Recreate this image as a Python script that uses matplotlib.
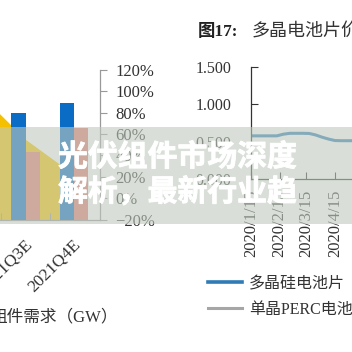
import numpy as np
import pandas as pd
import matplotlib
matplotlib.use('Agg')
import matplotlib.pyplot as plt
import matplotlib.patheffects as pe
from matplotlib.patches import Rectangle
from matplotlib.lines import Line2D
from matplotlib.ticker import PercentFormatter, FormatStrFormatter

plt.rcParams['font.family'] = ['Liberation Serif', 'Noto Sans CJK SC']

# left chart: quarterly module demand (bars, GW) and growth (area, %)
quarters = ['2021Q2E', '2021Q3E', '2021Q4E']
demand_blue = [np.nan, 42.8, 46.8]
demand_red = [np.nan, 27.2, 36.8]
growth_pct = [100, 55, 22]

# right chart: poly cell price (weekly)
price_dates = pd.date_range('2020-01-15', periods=17, freq='7D')
poly_price = [0.578, 0.578, 0.578, 0.578, 0.578, 0.600, 0.612, 0.612, 0.612,
              0.610, 0.590, 0.560, 0.535, 0.515, 0.513, 0.513, 0.513]
tick_dates = pd.to_datetime(['2020-01-15', '2020-02-15', '2020-03-15', '2020-04-15'])
legend_labels = ['多晶硅电池片', '单晶PERC电池片']

W = 352.0
def fx(px):
    return px / W
def fy(py):
    return 1 - py / W

fig = plt.figure(figsize=(3.52, 3.52), dpi=100)
fig.patch.set_facecolor('white')

# ---- left chart
ax_g = fig.add_axes([fx(-47.25), fy(219.5), 147.25 / W, 149.5 / W])
x = np.arange(len(quarters))
ax_g.fill_between(x, growth_pct, -20, color='#f5c000', lw=0)
ax_g.set_ylim(-20, 120)
ax_g.set_xlim(-0.5, 2.536)

ax_b = ax_g.twinx()
ax_b.bar(x - 0.145, demand_blue, width=0.29, color='#0a6cc4')
ax_b.bar(x + 0.145, demand_red, width=0.29, color='#e5786d')
ax_b.set_ylim(0, 60)
ax_b.yaxis.set_visible(False)
for s in ax_b.spines.values():
    s.set_visible(False)
ax_b.patch.set_visible(False)

ax_g.yaxis.tick_right()
ax_g.set_yticks(np.arange(-20, 121, 20))
ax_g.yaxis.set_major_formatter(PercentFormatter(100, decimals=0))
ax_g.tick_params(axis='y', direction='out', length=5, width=0.8, color='#999999',
                 labelsize=12, labelcolor='#333333', pad=6)
ax_g.set_xticks(x + 0.08)
ax_g.set_xticklabels(quarters, rotation=45, ha='right', va='center',
                     rotation_mode='anchor', fontsize=12.5, color='#333333')
ax_g.tick_params(axis='x', which='major', length=0, pad=16)
ax_g.set_xticks([-0.5, 0.5, 1.5], minor=True)
ax_g.tick_params(axis='x', which='minor', direction='in', length=5, width=0.8, color='#999999')
for side in ['top', 'left']:
    ax_g.spines[side].set_visible(False)
for side in ['right', 'bottom']:
    ax_g.spines[side].set_color('#999999')
    ax_g.spines[side].set_linewidth(0.9)

fig.text(fx(118), fy(317), '组件需求（GW）', ha='right', va='center', fontsize=12, color='#333333')

# ---- right chart
ax_p = fig.add_axes([fx(251), fy(179), 101 / W, 112 / W])
ax_p.plot(price_dates, poly_price, color='#2e7bb6', lw=2.2)
ax_p.set_xlim(pd.Timestamp('2020-01-15'), pd.Timestamp('2020-05-03 10:00'))
ax_p.set_ylim(0, 1.5)
ax_p.set_yticks([0, 0.5, 1.0, 1.5])
ax_p.yaxis.set_major_formatter(FormatStrFormatter('%.3f'))
ax_p.set_xticks(tick_dates)
ax_p.set_xticklabels([f'{d.year}/{d.month}/{d.day}' for d in tick_dates],
                     rotation=90, ha='center', va='top')
ax_p.tick_params(axis='y', direction='in', length=5, width=0.8, color='#333333',
                 labelsize=11.5, labelcolor='#333333', pad=14)
ax_p.tick_params(axis='x', direction='in', length=5, width=0.8, color='#333333',
                 labelsize=12, labelcolor='#333333', pad=8)
for side in ['top', 'right']:
    ax_p.spines[side].set_visible(False)
for side in ['left', 'bottom']:
    ax_p.spines[side].set_color('#333333')
    ax_p.spines[side].set_linewidth(0.9)
ax_p.patch.set_visible(False)

fig.text(fx(198), fy(32), '图17:', ha='left', va='center', fontsize=12.5,
         fontweight='bold', color='#222222')
fig.text(fx(252), fy(32), '多晶电池片价格走势', ha='left', va='center', fontsize=13,
         color='#333333')

handles = [Line2D([], [], color='#2e7bb6', lw=2.6), Line2D([], [], color='#a6a6a6', lw=2.2)]
fig.legend(handles, legend_labels, loc='upper left', bbox_to_anchor=(fx(208), fy(276)),
           frameon=False, handlelength=2.1, handletextpad=0.45, labelspacing=0.6,
           borderpad=0, borderaxespad=0, fontsize=11.5, labelcolor='#333333')

# ---- overlay banner
fig.add_artist(Rectangle((0, fy(224)), 1, 97 / W, transform=fig.transFigure,
                         facecolor='#c0cbbe', alpha=0.6, lw=0, zorder=10))
thick = [pe.withStroke(linewidth=0.6, foreground='white')]
fig.text(fx(58), fy(157), '光伏组件市场深度', ha='left', va='center', fontsize=21.5,
         fontweight='bold', color='white', family='Noto Sans CJK SC', zorder=11,
         path_effects=thick)
fig.text(fx(58), fy(192), '解析，最新行业趋', ha='left', va='center', fontsize=21.5,
         fontweight='bold', color='white', family='Noto Sans CJK SC', zorder=11,
         path_effects=thick)

fig.savefig('out.png', dpi=100)
